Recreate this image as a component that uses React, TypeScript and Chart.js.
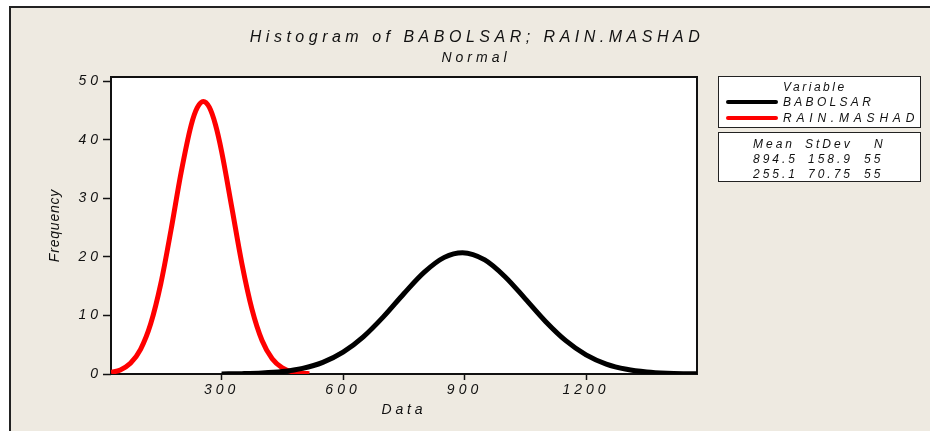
import React, { useEffect, useRef } from "react";
import { Chart, registerables } from "chart.js";

Chart.register(...registerables);

const TITLE = "Histogram of BABOLSAR; RAIN.MASHAD";
const SUBTITLE = "Normal";
const X_LABEL = "Data";
const Y_LABEL = "Frequency";
const X_TICKS = [300, 600, 900, 1200];
const Y_TICKS = [0, 10, 20, 30, 40, 50];
const X_MIN = 27;
const X_MAX = 1474;
const Y_MIN = 0;
const Y_MAX = 50.7;

const SERIES_NAMES = ["BABOLSAR", "RAIN.MASHAD"];
const SERIES_COLORS = ["#000000", "#ff0000"];
const MEANS = ["894.5", "255.1"];
const STDEVS = ["158.9", "70.75"];
const COUNTS = ["55", "55"];

const BLACK_X = [300, 350, 400, 450, 500, 550, 600, 650, 700, 750, 800, 850, 895, 950, 1000, 1050, 1100, 1150, 1200, 1250, 1300, 1350, 1400, 1450, 1474];
const BLACK_Y = [0.02, 0.06, 0.16, 0.41, 0.95, 1.98, 3.72, 6.34, 9.79, 13.7, 17.35, 19.91, 20.71, 19.48, 16.61, 12.83, 8.97, 5.69, 3.26, 1.69, 0.8, 0.34, 0.13, 0.05, 0.03];

const RED_X = [27, 50, 75, 100, 125, 150, 175, 200, 225, 240, 255, 270, 285, 300, 325, 350, 375, 400, 425, 450, 475, 500, 517];
const RED_Y = [0.26, 0.7, 1.82, 4.21, 8.57, 15.43, 24.51, 34.36, 42.5, 45.47, 46.52, 45.5, 42.55, 38.04, 28.55, 18.92, 11.07, 5.71, 2.6, 1.05, 0.37, 0.12, 0.05];

const FONT = "'Liberation Sans', Arial, sans-serif";
const TEXT = "#111111";
const BG = "#eeeae1";

const framePlugin = {
  id: "frame",
  afterUpdate(chart: any) {
    const patch = (s: any, spacing: string) => {
      if (!s || s._spacingPatched) return;
      const orig = s.drawTitle.bind(s);
      s.drawTitle = function () {
        const c = chart.ctx;
        const prev = c.letterSpacing;
        c.letterSpacing = spacing;
        orig();
        c.letterSpacing = prev;
      };
      s._spacingPatched = true;
    };
    patch(chart.scales.y, "0.8px");
    patch(chart.scales.x, "3.8px");
  },
  beforeDraw(chart: any) {
    const { ctx, chartArea } = chart;
    const { left, top, right, bottom } = chartArea;
    ctx.save();
    ctx.fillStyle = "#ffffff";
    ctx.fillRect(left, top, right - left, bottom - top);
    ctx.restore();
    ctx.letterSpacing = "4px";
  },
  beforeDatasetsDraw(chart: any) {
    const { ctx, chartArea } = chart;
    const { left, top, right, bottom } = chartArea;
    ctx.save();
    ctx.strokeStyle = TEXT;
    ctx.lineWidth = 2;
    ctx.strokeRect(left, top, right - left, bottom - top);
    ctx.restore();
  },
};

const txt = (
  s: string,
  left: number,
  cy: number,
  size: number,
  spacing: number,
  extra: React.CSSProperties = {}
) => (
  <div
    style={{
      position: "absolute",
      left,
      top: cy - 9,
      height: 18,
      lineHeight: "18px",
      fontFamily: FONT,
      fontStyle: "italic",
      fontSize: size,
      letterSpacing: spacing,
      color: TEXT,
      whiteSpace: "nowrap",
      ...extra,
    }}
  >
    {s}
  </div>
);

export default function App() {
  const canvasRef = useRef<HTMLCanvasElement | null>(null);

  useEffect(() => {
    if (!canvasRef.current) return;
    const tickFont = { family: FONT, size: 14, style: "italic" as const };
    const chart = new Chart(canvasRef.current, {
      type: "line",
      data: {
        datasets: [
          {
            label: SERIES_NAMES[0],
            data: BLACK_X.map((x, i) => ({ x, y: BLACK_Y[i] })),
            borderColor: SERIES_COLORS[0],
            borderWidth: 5,
            pointRadius: 0,
            cubicInterpolationMode: "monotone",
            fill: false,
          },
          {
            label: SERIES_NAMES[1],
            data: RED_X.map((x, i) => ({ x, y: RED_Y[i] })),
            borderColor: SERIES_COLORS[1],
            borderWidth: 5,
            pointRadius: 0,
            cubicInterpolationMode: "monotone",
            fill: false,
          },
        ],
      },
      options: {
        animation: false,
        responsive: false,
        devicePixelRatio: 1,
        layout: { padding: { left: 0, right: 233, top: 77, bottom: 0 } },
        plugins: {
          legend: { display: false },
          tooltip: { enabled: false },
          title: { display: false },
        },
        scales: {
          x: {
            type: "linear",
            min: X_MIN,
            max: X_MAX,
            afterFit: (s: any) => {
              s.height = 57;
            },
            afterBuildTicks: (s: any) => {
              s.ticks = X_TICKS.map((v) => ({ value: v }));
            },
            grid: {
              drawOnChartArea: false,
              drawTicks: true,
              tickLength: 6,
              tickWidth: 1.5,
              tickColor: TEXT,
            },
            border: { display: false },
            ticks: {
              padding: 2,
              color: TEXT,
              font: tickFont,
              maxRotation: 0,
              callback: (v: any) => String(v),
            },
            title: {
              display: true,
              text: X_LABEL,
              color: TEXT,
              font: tickFont,
              padding: { top: 0, bottom: 12 },
            },
          },
          y: {
            type: "linear",
            min: Y_MIN,
            max: Y_MAX,
            afterFit: (s: any) => {
              s.width = 111;
            },
            afterBuildTicks: (s: any) => {
              s.ticks = Y_TICKS.map((v) => ({ value: v }));
            },
            grid: {
              drawOnChartArea: false,
              drawTicks: true,
              tickLength: 8,
              tickWidth: 1.5,
              tickColor: TEXT,
            },
            border: { display: false },
            ticks: {
              padding: 1,
              color: TEXT,
              font: tickFont,
              callback: (v: any) => String(v),
            },
            title: {
              display: true,
              text: Y_LABEL,
              color: TEXT,
              font: tickFont,
              padding: { top: 47, bottom: 0 },
            },
          },
        },
      },
      plugins: [framePlugin],
    } as any);
    return () => chart.destroy();
  }, []);

  return (
    <div
      style={{
        position: "absolute",
        left: 0,
        top: 0,
        width: 930,
        height: 431,
        overflow: "hidden",
        background: "#ffffff",
      }}
    >
      <div
        style={{
          position: "absolute",
          left: 9,
          top: 6,
          right: 0,
          bottom: 0,
          background: BG,
          borderTop: "2px solid #222",
          borderLeft: "2px solid #222",
        }}
      />
      <canvas
        ref={canvasRef}
        width={930}
        height={431}
        style={{ position: "absolute", left: 0, top: 0, width: 930, height: 431 }}
      />
      {txt(TITLE, 477, 37, 16, 4.5, { transform: "translateX(-50%)" })}
      {txt(SUBTITLE, 476, 57, 14, 4, { transform: "translateX(-50%)" })}

      <div
        style={{
          position: "absolute",
          left: 718,
          top: 76,
          width: 203,
          height: 52,
          boxSizing: "border-box",
          border: "1.5px solid #222",
          background: "#ffffff",
        }}
      />
      {txt("Variable", 783, 87, 12, 2.5)}
      <div style={{ position: "absolute", left: 726, top: 100, width: 52, height: 4, background: SERIES_COLORS[0], borderRadius: 2 }} />
      {txt(SERIES_NAMES[0], 783, 102, 12, 3.3)}
      <div style={{ position: "absolute", left: 726, top: 116, width: 52, height: 4, background: SERIES_COLORS[1], borderRadius: 2 }} />
      {txt(SERIES_NAMES[1], 783, 118, 12, 4.8)}

      <div
        style={{
          position: "absolute",
          left: 718,
          top: 132,
          width: 203,
          height: 50,
          boxSizing: "border-box",
          border: "1.5px solid #222",
          background: "#ffffff",
        }}
      />
      {txt("Mean", 753, 144, 12, 3)}
      {txt("StDev", 805, 144, 12, 3)}
      {txt("N", 874, 144, 12, 3)}
      {MEANS.map((m, i) => (
        <React.Fragment key={i}>
          {txt(m, 753, 159 + i * 15, 12, 3)}
          {txt(STDEVS[i], 808, 159 + i * 15, 12, 3)}
          {txt(COUNTS[i], 864, 159 + i * 15, 12, 3)}
        </React.Fragment>
      ))}
    </div>
  );
}
